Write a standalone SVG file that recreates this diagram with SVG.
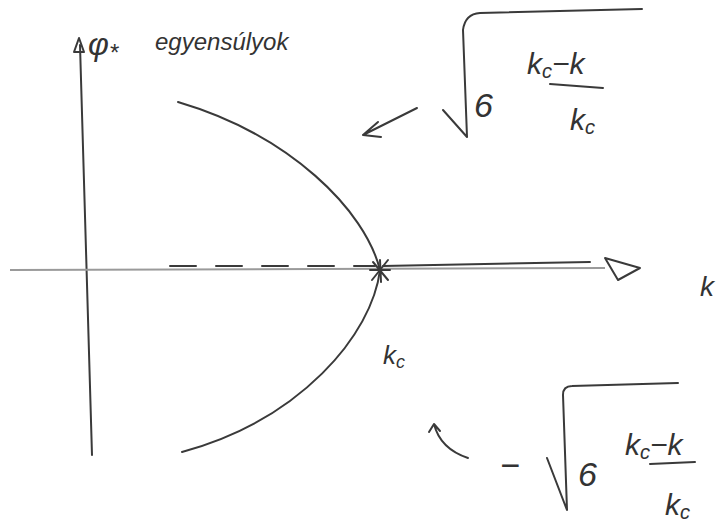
<svg xmlns="http://www.w3.org/2000/svg" width="726" height="525" viewBox="0 0 726 525">
<defs>
<style>
.ln{fill:none;stroke:#3a3a3a;stroke-width:2;stroke-linecap:round;stroke-linejoin:round}
.ax{fill:none;stroke:#9a9a9a;stroke-width:2}
.t{font-family:"Liberation Sans","DejaVu Sans",sans-serif;fill:#333;font-style:italic}
</style>
</defs>
<rect width="726" height="525" fill="#fff"/>
<g id="connectors">
<path class="ln" d="M80,45 L92,455" stroke-width="1.8"/>
<path class="ln" d="M74,52 L79,38 L84,52 Z" stroke-width="1.8"/>
<path class="ax" d="M10,270 L605,268"/>
<path class="ln" d="M605,258 L640,268 L618,280 Z" stroke-width="2"/>
<path class="ln" d="M170,266 L375,266" stroke-dasharray="26,20" stroke-width="2"/>
<path class="ln" d="M383,266 L590,262" stroke="#666" stroke-width="3.5"/>
<path id="curve" class="ln" d="M178,102 C290,135 365,210 380,270 C372,335 300,420 182,452"/>
<path class="ln" d="M417,108 L363,135 M363,135 L378,122 M363,135 L381,137"/>
<path class="ln" d="M468,458 C450,452 438,440 434,424 M434,424 L429,432 M434,424 L440,431"/>
</g>
<g id="vertex">
<path class="ln" d="M373,262 L388,280 M388,260 L372,280 M370,270 L390,270 M380,260 L381,282" stroke-width="2.2"/>
</g>
<g id="ylabel">
<text class="t" x="88" y="55" font-size="32">φ<tspan font-size="24" dy="6">*</tspan></text>
<text class="t" x="155" y="50" font-size="24">egyensúlyok</text>
</g>
<g id="kc-label">
<text class="t" x="383" y="364" font-size="26">k<tspan font-size="18" dy="4">c</tspan></text>
</g>
<g id="k-label">
<text class="t" x="700" y="296" font-size="28">k</text>
</g>
<g id="upper-formula">
<path class="ln" d="M443,110 L467,137 L463,30 Q465,14 480,13 L642,9"/>
<text class="t" x="474" y="117" font-size="34" font-style="normal">6</text>
<text class="t" x="527" y="74" font-size="30">k<tspan font-size="20" dy="4">c</tspan><tspan dy="-4" font-size="30">−k</tspan></text>
<path class="ln" d="M550,84 L603,88"/>
<text class="t" x="570" y="130" font-size="30">k<tspan font-size="20" dy="4">c</tspan></text>
</g>
<g id="lower-formula">
<text class="t" x="500" y="477" font-size="34" font-style="normal">−</text>
<path class="ln" d="M547,458 L567,510 L563,395 Q563,386 572,386 L678,383"/>
<text class="t" x="578" y="486" font-size="34" font-style="normal">6</text>
<text class="t" x="625" y="455" font-size="30">k<tspan font-size="20" dy="4">c</tspan><tspan dy="-4" font-size="30">−k</tspan></text>
<path class="ln" d="M650,464 L695,462"/>
<text class="t" x="665" y="515" font-size="30">k<tspan font-size="20" dy="4">c</tspan></text>
</g>
</svg>
